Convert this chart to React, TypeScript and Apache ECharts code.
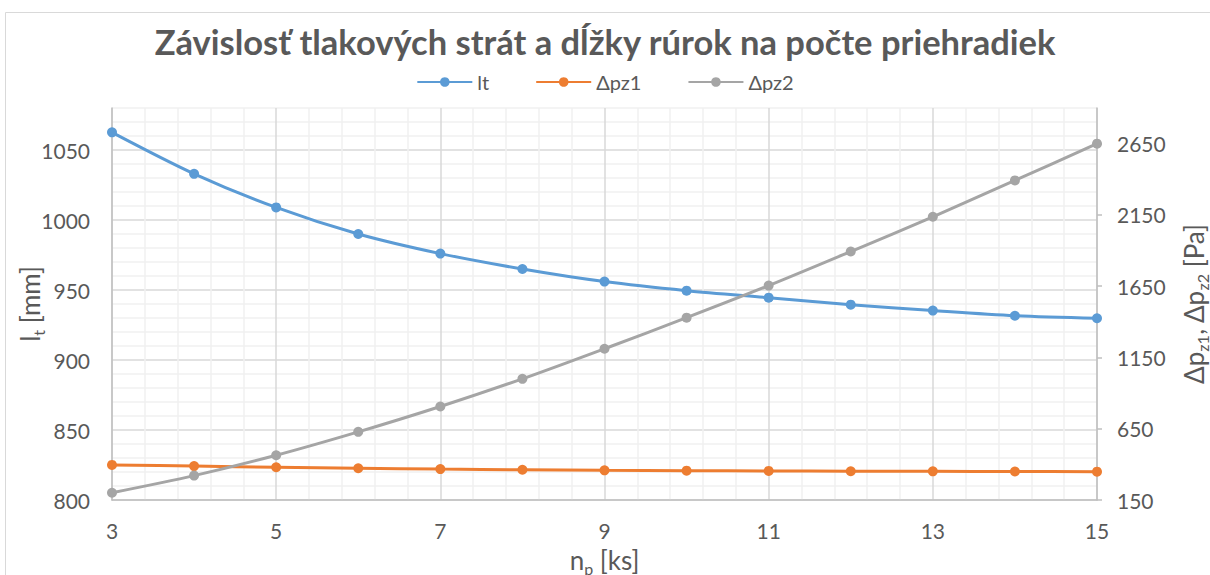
import React, { useEffect, useRef } from "react";
import * as echarts from "echarts";

const np = [3, 4, 5, 6, 7, 8, 9, 10, 11, 12, 13, 14, 15];
const lt = [1062.6, 1033, 1009, 990, 976, 965, 956, 949.5, 944.5, 939.5, 935.3, 931.6, 929.8];
const dpz1 = [396, 388, 380, 373, 367, 362, 358, 356, 354, 352, 351, 350, 349];
const dpz2 = [201, 321, 464, 628, 806, 1000, 1211, 1429, 1654, 1893, 2137, 2392, 2650];
const xLabels = [3, 5, 7, 9, 11, 13, 15];
const leftLabels = [800, 850, 900, 950, 1000, 1050];
const rightLabels = [150, 650, 1150, 1650, 2150, 2650];

const FONT = "Lato";
const TXT = "#595959";
const MAJOR = "#D9D9D9";
const MINOR = "#F0F0F0";
const AXIS = "#BFBFBF";
const plain = (v: number) => String(v);

export default function App() {
  const ref = useRef<HTMLDivElement>(null);
  useEffect(() => {
    document.body.style.margin = "0";
    const chart = echarts.init(ref.current!, undefined, { renderer: "svg" });
    const rich = {
      a: { fontSize: 26, color: TXT, fontFamily: FONT, lineHeight: 32 },
      s: { fontSize: 16, color: TXT, fontFamily: FONT, lineHeight: 16, verticalAlign: "bottom" as const },
    };
    const series = [
      { name: "lt", data: lt, color: "#5B9BD5", y: 0 },
      { name: "Δpz1", data: dpz1, color: "#ED7D31", y: 1 },
      { name: "Δpz2", data: dpz2, color: "#A5A5A5", y: 1 },
    ].map((s) => ({
      name: s.name,
      type: "line",
      yAxisIndex: s.y,
      data: np.map((x, i) => [x, s.data[i]]),
      smooth: 0.3,
      symbol: "circle",
      symbolSize: 10,
      lineStyle: { width: 3, color: s.color },
      itemStyle: { color: s.color },
    }));
    chart.setOption({
      animation: false,
      textStyle: { fontFamily: FONT },
      graphic: [
        {
          type: "rect",
          shape: { x: 5.5, y: 12.5, width: 1220, height: 620 },
          style: { fill: "none", stroke: "#D9D9D9", lineWidth: 1 },
          silent: true,
        },
      ],
      title: {
        text: "Závislosť tlakových strát a dĺžky rúrok na počte priehradiek",
        left: "center",
        top: 19,
        textStyle: { fontFamily: FONT, fontWeight: "bold", fontSize: 34.5, color: TXT },
      },
      legend: {
        top: 67,
        left: "center",
        itemWidth: 55,
        itemHeight: 12,
        itemGap: 46,
        textStyle: { fontFamily: FONT, fontSize: 20, color: TXT },
        data: ["lt", "Δpz1", "Δpz2"],
      },
      grid: { left: 112, right: 113, top: 108, bottom: 75, containLabel: false, outerBoundsMode: "none" },
      xAxis: {
        type: "value",
        min: 3,
        max: 15,
        interval: 0.2,
        name: "{a|n}{s|p}{a| [ks]}",
        nameLocation: "middle",
        nameGap: 44,
        nameTextStyle: { rich },
        axisLine: { show: true, lineStyle: { color: AXIS, width: 1.5 } },
        axisTick: { show: false },
        axisLabel: { customValues: xLabels, formatter: plain, color: TXT, fontSize: 21, fontFamily: FONT, margin: 20 },
        splitLine: {
          show: true,
          lineStyle: {
            width: 1.5,
            color: [MAJOR, "rgba(0,0,0,0)", MINOR, "rgba(0,0,0,0)", MINOR, "rgba(0,0,0,0)", MINOR, "rgba(0,0,0,0)", MINOR, "rgba(0,0,0,0)"],
          },
        },
      },
      yAxis: [
        {
          type: "value",
          min: 800,
          max: 1080,
          interval: 10,
          name: "{a|l}{s|t}{a| [mm]}",
          nameLocation: "middle",
          nameRotate: 90,
          nameGap: 66,
          nameMoveOverlap: false,
          nameTextStyle: { rich },
          axisLine: { show: true, lineStyle: { color: AXIS, width: 1.5 } },
          axisTick: { show: false },
          axisLabel: { customValues: leftLabels, formatter: plain, color: TXT, fontSize: 21, fontFamily: FONT, margin: 22 },
          splitLine: { show: true, lineStyle: { width: 1.5, color: [MAJOR, MINOR, MINOR, MINOR, MINOR] } },
        },
        {
          type: "value",
          min: 150,
          max: 2900,
          position: "right",
          name: "{a|Δp}{s|z1}{a|, Δp}{s|z2}{a| [Pa]}",
          nameLocation: "middle",
          nameRotate: 90,
          nameGap: 81,
          nameTextStyle: { rich },
          axisLine: { show: true, lineStyle: { color: AXIS, width: 1.5 } },
          axisTick: { show: true, customValues: rightLabels, length: 5, lineStyle: { color: AXIS, width: 1.5 } },
          axisLabel: { customValues: rightLabels, formatter: plain, color: TXT, fontSize: 21, fontFamily: FONT, margin: 20 },
          splitLine: { show: false },
        },
      ],
      series,
    });
    return () => chart.dispose();
  }, []);
  return <div ref={ref} style={{ width: 1210, height: 575 }} />;
}
